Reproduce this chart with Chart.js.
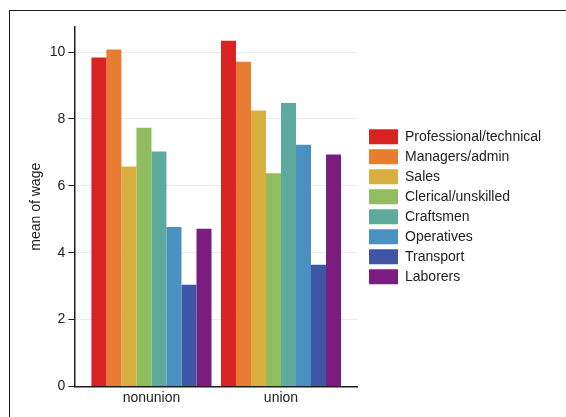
<!DOCTYPE html>
<html>
<head>
<meta charset="utf-8">
<script src="https://cdn.jsdelivr.net/npm/chart.js@4"></script>
<style>
    html, body { margin: 0; padding: 0; background: #fff; }
    #wrap { position: relative; width: 566px; height: 417px; overflow: hidden; }
    #frame { position: absolute; left: 9px; top: 10px; width: 600px; height: 500px;
             border-left: 1.5px solid #1e1e1e; border-top: 1.5px solid #1e1e1e; pointer-events: none; }
</style>
</head>
<body>
<div id="wrap">
    <canvas id="wagechart" width="566" height="417"></canvas>
    <div id="frame"></div>
</div>
<script>
var groups = ["nonunion", "union"];
var occupations = ["Professional/technical", "Managers/admin", "Sales", "Clerical/unskilled",
    "Craftsmen", "Operatives", "Transport", "Laborers"];
var nonunionWage = [9.84, 10.08, 6.58, 7.74, 7.03, 4.77, 3.04, 4.72];
var unionWage = [10.34, 9.71, 8.25, 6.38, 8.48, 7.23, 3.64, 6.94];
var yTicks = [0, 2, 4, 6, 8, 10];
var colors = ["#d92222", "#e87c31", "#d9af40", "#91bd61", "#5faa9f", "#4a90c1", "#3e56a5", "#7a1c80"];

Chart.defaults.font.family = "'Liberation Sans', Arial, sans-serif";
Chart.defaults.font.size = 14;
Chart.defaults.color = "#222";

var wagechart = null;

function createWageChart() {
    const datasets = occupations.map(function (name, i) {
        return {
            label: name,
            backgroundColor: colors[i],
            borderWidth: 0,
            data: [
                { x: 0, y: nonunionWage[i] },
                { x: 1, y: unionWage[i] },
            ],
            categoryPercentage: 0.927,
            barPercentage: 1.0,
        };
    });

    const config = {
        type: "bar",
        data: { datasets: datasets },
        options: {
            responsive: false,
            animation: false,
            layout: {
                padding: { top: 27, left: 27.6, bottom: 7.7, right: 14.8 },
            },
            scales: {
                x: {
                    type: "linear",
                    offset: false,
                    min: -0.595,
                    max: 1.59,
                    afterBuildTicks: function (scale) {
                        scale.ticks = groups.map(function (g, i) { return { value: i }; });
                    },
                    ticks: {
                        padding: 3,
                        callback: function (value) { return groups[value]; },
                    },
                    grid: { display: false, drawTicks: false },
                    border: { display: true, color: "#1e1e1e", width: 1.5 },
                },
                y: {
                    min: 0,
                    max: 10.75,
                    afterBuildTicks: function (scale) {
                        scale.ticks = yTicks.map(function (v) { return { value: v }; });
                    },
                    afterFit: function (scale) { scale.width = 46.8; },
                    ticks: { padding: 3 },
                    grid: { color: "#ebebeb", lineWidth: 1, tickLength: 6, tickColor: "#1e1e1e" },
                    border: { display: true, color: "#1e1e1e", width: 1.5 },
                    title: { display: true, text: "mean of wage", padding: 0 },
                },
                gap: {
                    type: "linear",
                    position: "right",
                    display: true,
                    grid: { display: false, drawTicks: false },
                    border: { display: false },
                    ticks: { display: false },
                    afterFit: function (scale) { scale.width = 6.6; },
                },
            },
            plugins: {
                legend: {
                    position: "right",
                    fullSize: false,
                    maxWidth: 300,
                    labels: {
                        boxWidth: 29,
                        boxHeight: 15,
                        padding: 5,
                    },
                },
                tooltip: { enabled: false },
            },
        },
    };
    if (wagechart != null) {
        wagechart.destroy();
    }
    wagechart = new Chart(document.getElementById("wagechart"), config);
}
createWageChart();
</script>
</body>
</html>
